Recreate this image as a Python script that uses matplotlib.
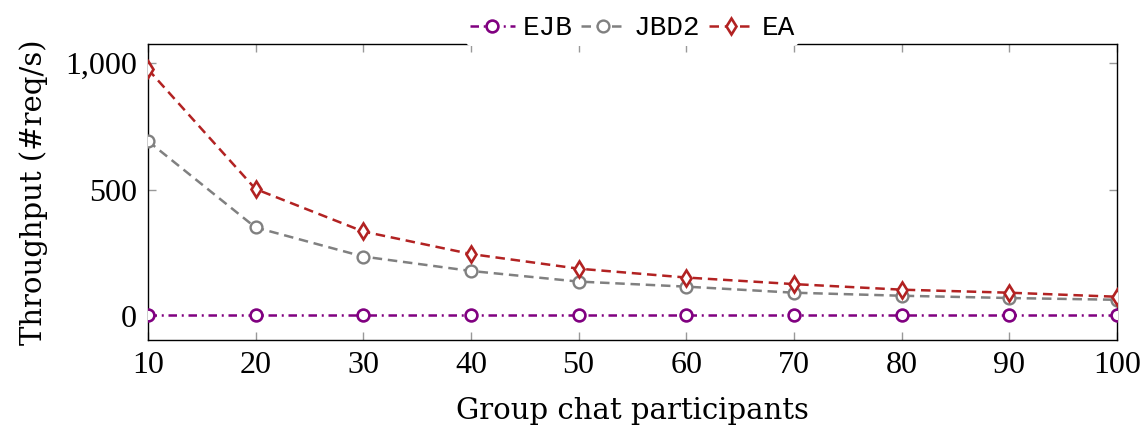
import matplotlib
matplotlib.use("Agg")
import matplotlib.pyplot as plt
from matplotlib.ticker import FuncFormatter

participants = [10, 20, 30, 40, 50, 60, 70, 80, 90, 100]
ejb = [5, 5, 5, 5, 5, 5, 5, 5, 5, 5]
jbd2 = [692, 350, 235, 178, 136, 116, 92, 80, 71, 64]
ea = [976, 502, 334, 245, 187, 152, 126, 104, 92, 76]
x_ticks = [10, 20, 30, 40, 50, 60, 70, 80, 90, 100]
y_ticks = [0, 500, 1000]

plt.rcParams["font.family"] = ["Liberation Serif", "DejaVu Serif"]
label_font = ["DejaVu Serif"]
mono = ["Liberation Mono", "DejaVu Sans Mono"]

fig = plt.figure(figsize=(11.46, 4.28), dpi=100)
ax = fig.add_axes([0.129, 0.2056, 0.8457, 0.6914])

ax.plot(participants, ejb, color="#800080", linestyle=(0, (3.4, 1.9, 0.8, 1.9)), lw=1.8,
        marker="o", markersize=8.5, markerfacecolor="white", markeredgewidth=1.9,
        label="EJB", zorder=3)
ax.plot(participants, jbd2, color="#808080", linestyle=(0, (3.8, 2.3)), lw=1.8,
        marker="o", markersize=8.5, markerfacecolor="white", markeredgewidth=1.7,
        label="JBD2", zorder=3)
ax.plot(participants, ea, color="#B22222", linestyle=(0, (3.8, 2.3)), lw=1.8,
        marker="d", markersize=8, markerfacecolor="white", markeredgewidth=1.9,
        label="EA", zorder=4)

ax.set_xlim(10, 100)
ax.set_ylim(-95, 1075)
ax.set_xticks(x_ticks)
ax.set_yticks(y_ticks)
ax.yaxis.set_major_formatter(FuncFormatter(lambda v, p: f"{int(v):,}"))
ax.tick_params(axis="both", direction="in", length=6, width=1, color="#999999",
               top=True, right=True, labelsize=23, pad=8)
for s in ax.spines.values():
    s.set_linewidth(1.0)
    s.set_color("black")

ax.set_xlabel("Group chat participants", fontsize=21, family=label_font, labelpad=12)
ax.set_ylabel("Throughput (#req/s)", fontsize=21, family=label_font, labelpad=12)

leg = ax.legend(loc="lower center", bbox_to_anchor=(0.5, 0.995), ncol=3, frameon=True,
                prop={"family": mono, "size": 20}, handlelength=1.6,
                columnspacing=0.3, handletextpad=0.3, borderpad=0.15,
                borderaxespad=0.0)
leg.get_frame().set_edgecolor("none")
leg.get_frame().set_facecolor("white")
leg.get_frame().set_alpha(1)
leg.set_zorder(10)

fig.savefig("out.png", dpi=100)
